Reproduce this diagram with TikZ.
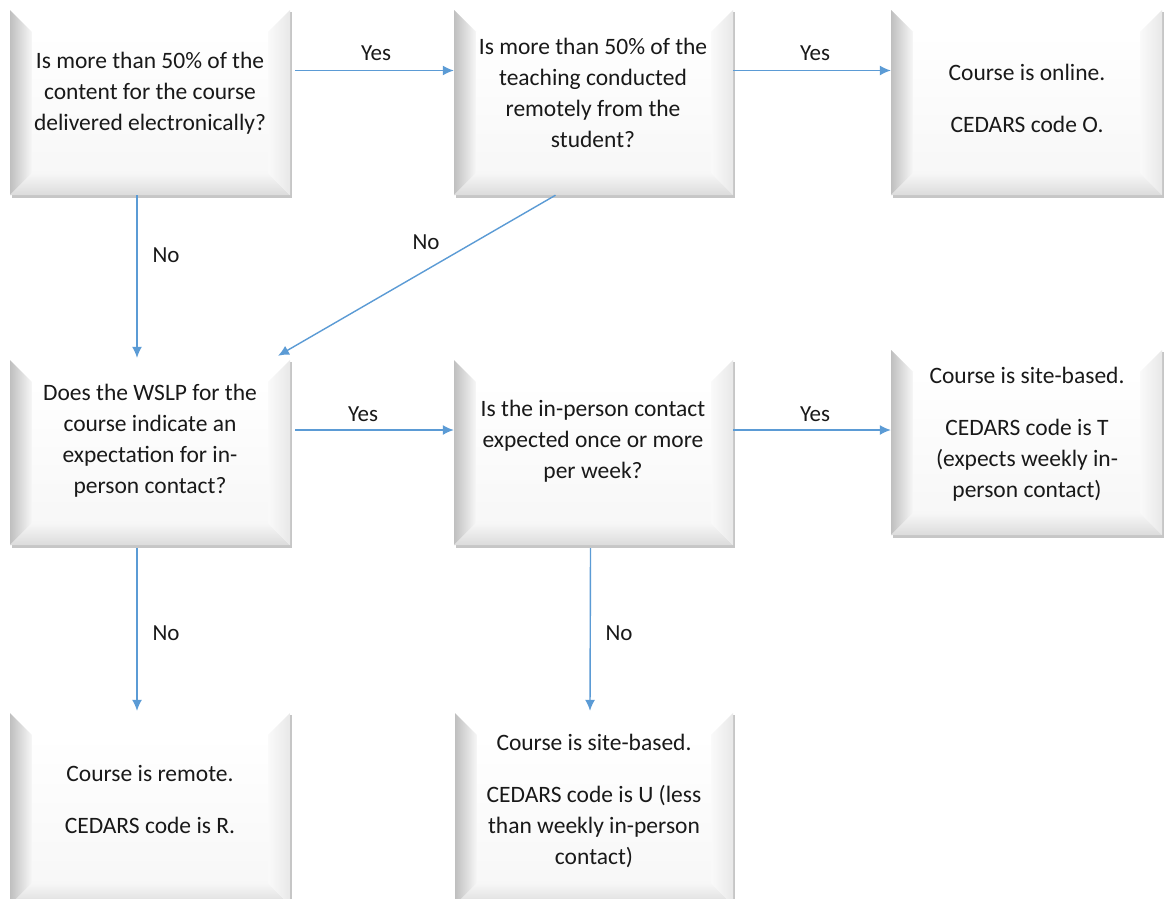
\documentclass[tikz,border=0pt]{standalone}
\usepackage{fontspec}
\setmainfont{Carlito}
\usetikzlibrary{fit,arrows.meta}
\definecolor{arrowblue}{RGB}{91,155,213}
\definecolor{txtcol}{RGB}{25,25,25}
\tikzset{
  flow/.style={draw=arrowblue, line width=1.4pt, -{Latex[length=11pt,width=10pt]}},
  boxtxt/.style={align=center, text=txtcol, font=\fontsize{23.5}{31}\selectfont, inner sep=0},
  lbl/.style={text=txtcol, font=\fontsize{23}{26}\selectfont, inner sep=0},
}
\newcommand\bevbox[5]{%
  \fill[gray!45] (#2+2,#3+2) rectangle (#4+2,#5+3);
  \fill[gray!4] (#2,#3) rectangle (#4,#5);
  \fill[white] (#2,#3) -- (#4,#3) -- (#4-22,#3+22) -- (#2+22,#3+22) -- cycle;
  \shade[left color=gray!50, right color=gray!6] (#2,#3) -- (#2+22,#3+22) -- (#2+22,#5-22) -- (#2,#5) -- cycle;
  \shade[top color=gray!6, bottom color=gray!28] (#2,#5) -- (#2+22,#5-22) -- (#4-22,#5-22) -- (#4,#5) -- cycle;
  \shade[left color=gray!4, right color=gray!18] (#4,#3) -- (#4,#5) -- (#4-22,#5-22) -- (#4-22,#3+22) -- cycle;
  \shade[top color=white, bottom color=gray!6] (#2+22,#3+22) rectangle (#4-22,#5-22);
  \path (#2,#3) coordinate (#1nw) (#4,#5) coordinate (#1se);
  \node[fit=(#1nw)(#1se), inner sep=0] (#1) {};
}
\begin{document}
\begin{tikzpicture}[x=1pt,y=-1pt]
\useasboundingbox[fill=white] (0,0) rectangle (1164,898);
\bevbox{b1}{10}{10}{290}{195}
\bevbox{b2}{454}{10}{733}{195}
\bevbox{b3}{891}{10}{1162}{195}
\bevbox{b4}{10}{360}{290}{545}
\bevbox{b5}{454}{360}{733}{545}
\bevbox{b6}{891}{350}{1162}{535}
\bevbox{b7}{10}{713}{290}{905}
\bevbox{b8}{455}{713}{733}{905}

\node[boxtxt] at (150,93) {Is more than 50\% of the\\content for the course\\delivered electronically?};
\node[boxtxt] at (593,92.5) {Is more than 50\% of the\\teaching conducted\\remotely from the\\student?};
\node[boxtxt] at (1027,98) {Course is online.\\[21pt]CEDARS code O.};
\node[boxtxt] at (150,440.5) {Does the WSLP for the\\course indicate an\\expectation for in-\\person contact?};
\node[boxtxt] at (593,441) {Is the in-person contact\\expected once or more\\per week?};
\node[boxtxt] at (1027,434) {Course is site-based.\\[21pt]CEDARS code is T\\(expects weekly in-\\person contact)};
\node[boxtxt] at (150,799) {Course is remote.\\[21pt]CEDARS code is R.};
\node[boxtxt] at (594,800.5) {Course is site-based.\\[21pt]CEDARS code is U (less\\than weekly in-person\\contact)};

\draw[flow] ([xshift=5pt,yshift=32pt]b1.east) -- ([yshift=32pt]b2.west);
\draw[flow] ([yshift=32pt]b2.east) -- ([yshift=32pt]b3.west);
\draw[flow] ([xshift=-13pt]b1.south) -- ([xshift=-13pt,yshift=2pt]b4.north);
\draw[flow] ([xshift=-38pt]b2.south) -- ([xshift=128pt,yshift=4pt]b4.north);
\draw[flow] ([xshift=5pt,yshift=22.5pt]b4.east) -- ([yshift=22.5pt]b5.west);
\draw[flow] ([yshift=22.5pt]b5.east) -- ([yshift=12.5pt]b6.west);
\draw[flow] ([xshift=-13pt,yshift=-3pt]b4.south) -- ([xshift=-13pt,yshift=2pt]b7.north);
\draw[flow] ([xshift=-3pt,yshift=-3pt]b5.south) -- ([xshift=-4pt,yshift=2pt]b8.north);

\node[lbl] (l1) at (376,53) {Yes};
\node[lbl] (l2) at (815,53) {Yes};
\node[lbl] (l3) at (166,255) {No};
\node[lbl] (l4) at (426,242) {No};
\node[lbl] (l5) at (363,414) {Yes};
\node[lbl] (l6) at (815,414) {Yes};
\node[lbl] (l7) at (166,633) {No};
\node[lbl] (l8) at (619,633) {No};
\end{tikzpicture}
\end{document}
